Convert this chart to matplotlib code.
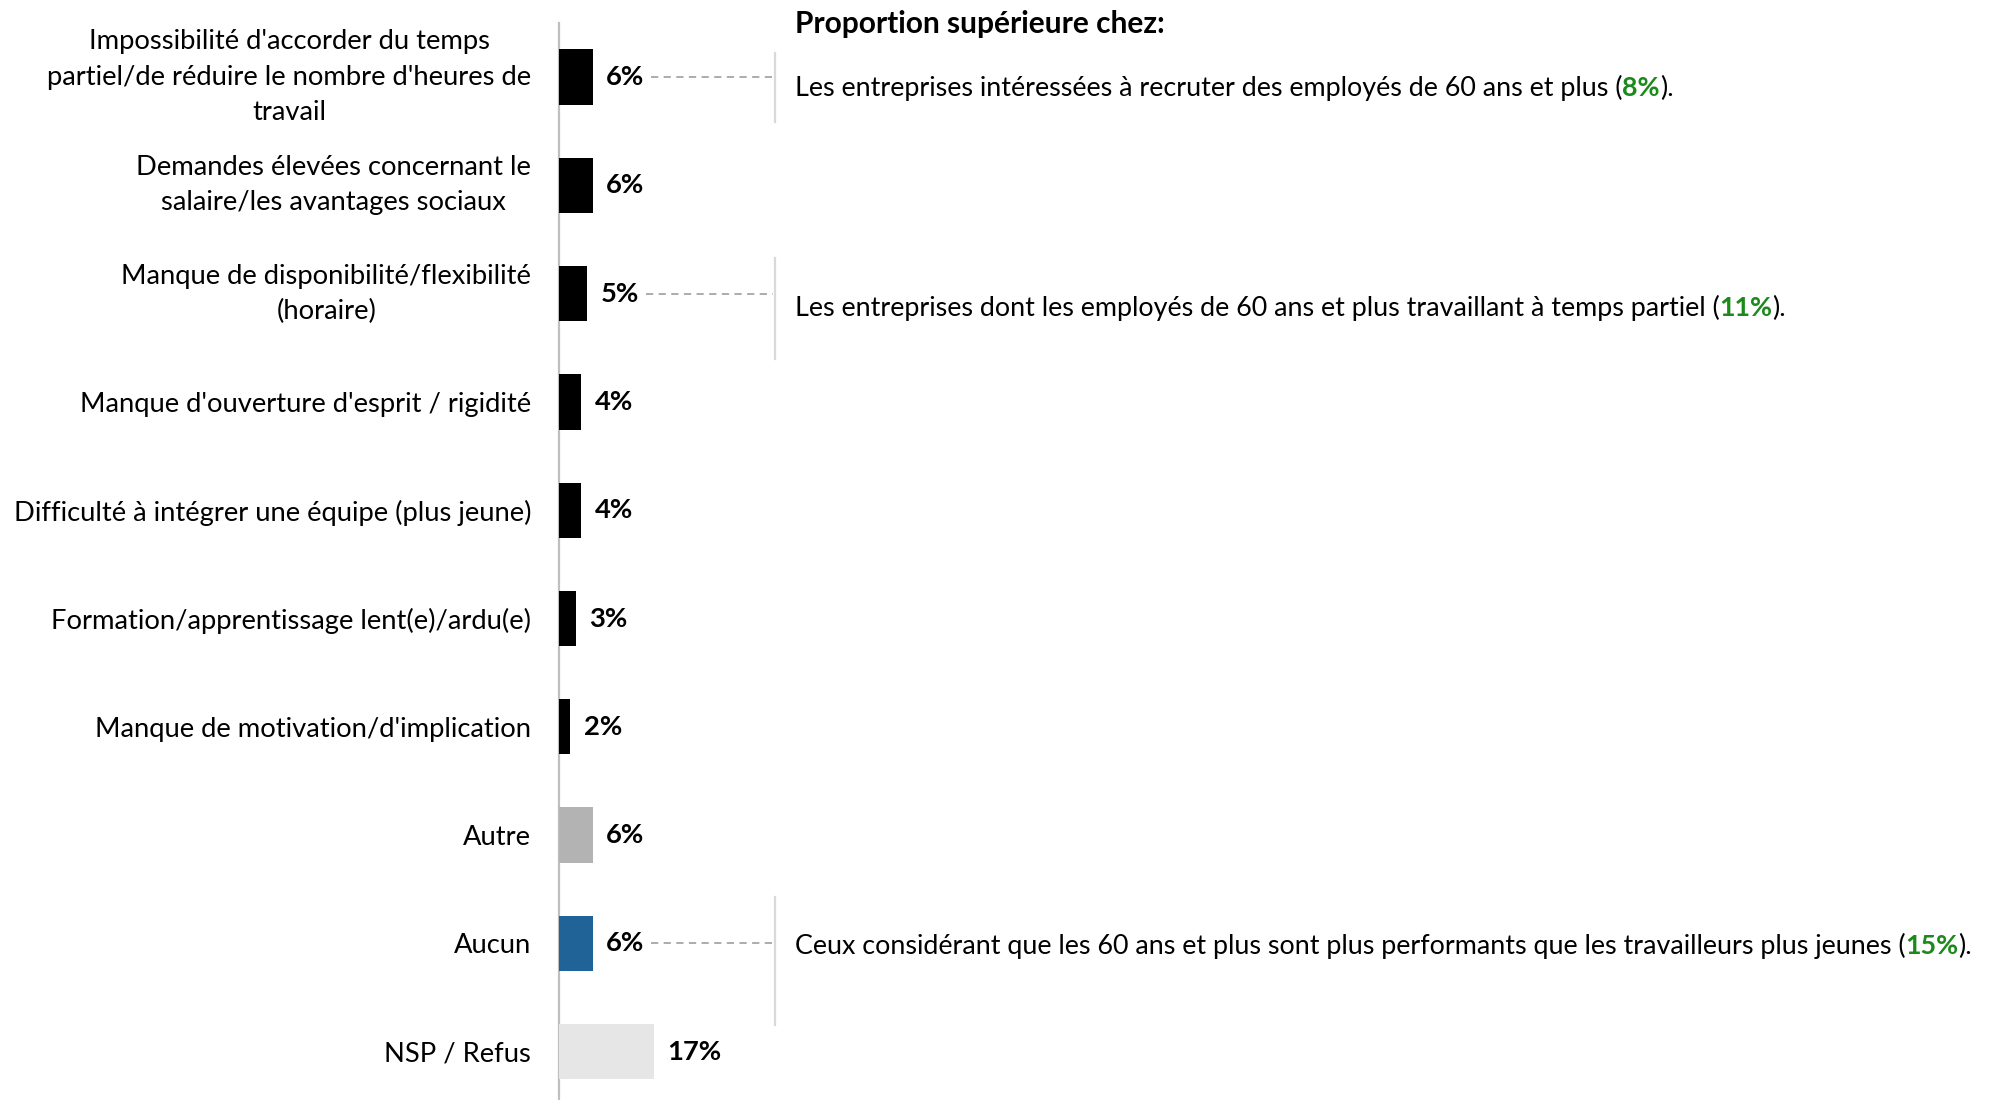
import matplotlib
matplotlib.use("Agg")
import matplotlib.pyplot as plt
from matplotlib.offsetbox import TextArea, HPacker, AnnotationBbox

plt.rcParams['font.family'] = ['Lato', 'DejaVu Sans']

categories = [
    "Impossibilité d'accorder du temps\npartiel/de réduire le nombre d'heures de\ntravail",
    "Demandes élevées concernant le\nsalaire/les avantages sociaux",
    "Manque de disponibilité/flexibilité\n(horaire)",
    "Manque d'ouverture d'esprit / rigidité",
    "Difficulté à intégrer une équipe (plus jeune)",
    "Formation/apprentissage lent(e)/ardu(e)",
    "Manque de motivation/d'implication",
    "Autre",
    "Aucun",
    "NSP / Refus",
]
values = [6, 6, 5, 4, 4, 3, 2, 6, 6, 17]
bar_colors = ['#000000'] * 7 + ['#B3B3B3', '#1F6397', '#E6E6E6']

# callouts: row index, text before the figure, highlighted figure
callout_rows = [0, 2, 8]
callout_texts = [
    "Les entreprises intéressées à recruter des employés de 60 ans et plus (",
    "Les entreprises dont les employés de 60 ans et plus travaillant à temps partiel (",
    "Ceux considérant que les 60 ans et plus sont plus performants que les travailleurs plus jeunes (",
]
callout_values = ["8%", "11%", "15%"]
callout_title = "Proportion supérieure chez:"

W, H, DPI = 1989, 1100, 100
FS = 19.7
fig = plt.figure(figsize=(W / DPI, H / DPI), dpi=DPI)

# axes starts at the baseline of the bars; 5.6 px per percentage point
left_px = 559
px_per_pct = 5.6
row_px = 108.3
first_row_px = 77
ax = fig.add_axes([left_px / W, 0, 1 - left_px / W, 1])
ax.set_xlim(0, (W - left_px) / px_per_pct)
ax.set_ylim((H - first_row_px) / row_px, -first_row_px / row_px)

rows = list(range(len(categories)))
ax.barh(rows, values, height=0.51, color=bar_colors, zorder=3)

for y, v in zip(rows, values):
    ax.text(v + 2.4, y, f"{v}%", va='center', ha='left', fontsize=FS,
            fontweight='bold', color='black')

ax.set_yticks(rows)
ax.set_yticklabels(categories, fontsize=FS, color='black')
for lbl in ax.get_yticklabels():
    lbl.set_multialignment('center')
    lbl.set_linespacing(1.5)
    if '\n' in lbl.get_text():
        lbl.set_va('center')
ax.tick_params(axis='y', length=0, pad=20)
ax.set_xticks([])

for side in ['top', 'right', 'bottom']:
    ax.spines[side].set_visible(False)
ax.spines['left'].set_color('#BFBFBF')
ax.spines['left'].set_linewidth(1.6)
ax.spines['left'].set_bounds(-0.5, ax.get_ylim()[0])

# callout column
vline_x = 38.6
text_x = 42.1
ax.text(text_x, -0.49, callout_title, fontsize=21.5, fontweight='bold',
        va='center', ha='left')

CFS = 19.4
callout_spans = [(-0.22, 0.42), (1.67, 2.6), (7.57, 8.75)]
callout_text_y = [0.1, 2.13, 8.02]
for r, txt, val, (y0, y1), ty in zip(callout_rows, callout_texts, callout_values,
                                      callout_spans, callout_text_y):
    ax.plot([values[r] + 10.5, vline_x - 0.4], [r, r], color='#A6A6A6',
            linestyle=(0, (4, 3)), linewidth=1.3)
    ax.plot([vline_x, vline_x], [y0, y1], color='#D9D9D9', linewidth=1.6)
    parts = [
        TextArea(txt, textprops=dict(fontsize=CFS, color='black')),
        TextArea(val, textprops=dict(fontsize=CFS, color='#1B8A1B', fontweight='bold')),
        TextArea(").", textprops=dict(fontsize=CFS, color='black')),
    ]
    box = HPacker(children=parts, align='baseline', pad=0, sep=0)
    ab = AnnotationBbox(box, (text_x, ty), xycoords='data',
                        box_alignment=(0, 0.5), frameon=False, pad=0)
    ax.add_artist(ab)

fig.savefig("out.png", dpi=DPI)
